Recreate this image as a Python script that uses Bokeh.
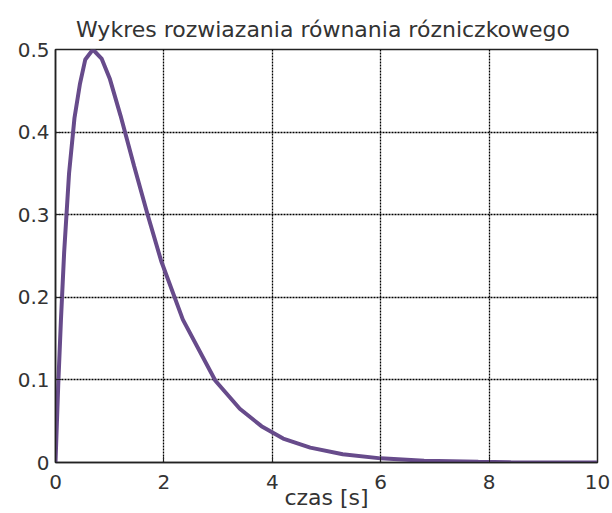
from bokeh.plotting import figure
from bokeh.models import Range1d, FixedTicker, NumeralTickFormatter
from bokeh.embed import file_html
from bokeh.resources import INLINE

# ---- data ----
title_text = "Wykres rozwiazania równania  rózniczkowego"
x_label = "czas [s]"
t = [0.0, 0.05, 0.1, 0.16, 0.25, 0.35, 0.45, 0.55, 0.69, 0.85, 1.0, 1.2, 1.45,
     1.7, 1.95, 2.35, 2.95, 3.4, 3.8, 4.2, 4.7, 5.3, 6.0, 6.8, 7.8, 8.4, 9.2, 10.0]
y = [0.0, 0.093, 0.172, 0.255, 0.35, 0.417, 0.458, 0.488, 0.5, 0.489, 0.465, 0.42, 0.359,
     0.3, 0.244, 0.173, 0.099, 0.065, 0.044, 0.029, 0.018, 0.010, 0.005, 0.0022, 0.0008,
     0.0002, 0.0001, 0.0]
x_ticks = [0, 2, 4, 6, 8, 10]
y_ticks = [0, 0.1, 0.2, 0.3, 0.4, 0.5]

FONT = "DejaVu Sans"
TXT = "#333333"

p = figure(width=612, height=513, output_backend="svg", toolbar_location=None,
           x_range=Range1d(0, 10), y_range=Range1d(0, 0.5),
           min_border_left=55, min_border_right=15, min_border_top=49, min_border_bottom=51)
p.background_fill_color = "white"
p.border_fill_color = "white"
p.outline_line_color = "#222222"
p.outline_line_width = 1.5

p.title.text = title_text
p.title.align = "center"
p.title.text_font = FONT
p.title.text_font_size = "22px"
p.title.text_font_style = "normal"
p.title.text_color = TXT
p.title.standoff = 16

p.xaxis.axis_label = x_label
p.xaxis.axis_label_text_font = FONT
p.xaxis.axis_label_text_font_size = "22px"
p.xaxis.axis_label_text_font_style = "normal"
p.xaxis.axis_label_text_color = TXT
p.xaxis.axis_label_standoff = -7

p.xaxis.ticker = FixedTicker(ticks=x_ticks)
p.yaxis.ticker = FixedTicker(ticks=y_ticks)
p.xaxis.formatter = NumeralTickFormatter(format="0")
p.yaxis.formatter = NumeralTickFormatter(format="0.[0]")
p.axis.major_label_text_font = FONT
p.axis.major_label_text_font_size = "20px"
p.axis.major_label_text_color = TXT
p.axis.axis_line_color = "#222222"
p.axis.axis_line_width = 1.5
p.axis.major_tick_in = 6
p.axis.major_tick_out = 0
p.axis.major_tick_line_color = "#222222"
p.axis.minor_tick_line_color = None
p.xaxis.major_label_standoff = 12
p.yaxis.major_label_standoff = 6

p.grid.grid_line_color = "#000000"
p.grid.grid_line_dash = "2 1"
p.grid.grid_line_width = 1.3
p.xgrid.ticker = FixedTicker(ticks=x_ticks)
p.ygrid.ticker = FixedTicker(ticks=y_ticks)

p.line(t, y, line_color="#674b8b", line_width=4)

open("out.html", "w").write(file_html(p, INLINE))
